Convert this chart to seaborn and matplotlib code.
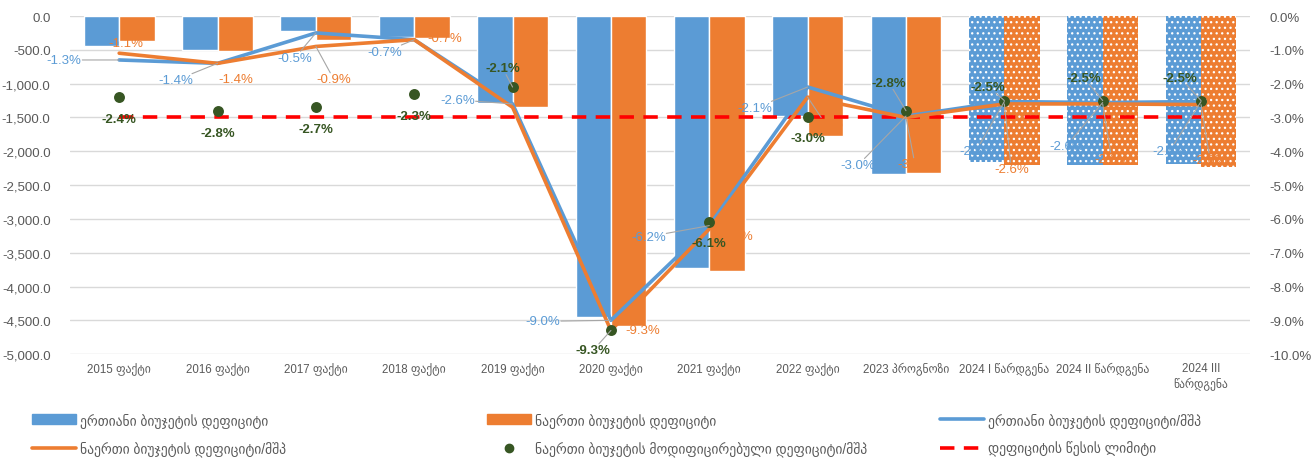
import numpy as np
import pandas as pd
import seaborn as sns
import matplotlib.pyplot as plt
from matplotlib.lines import Line2D
from matplotlib.patches import Patch
from matplotlib.ticker import FuncFormatter, MultipleLocator

# ---- data ----
categories = ['2015 ფაქტი', '2016 ფაქტი', '2017 ფაქტი', '2018 ფაქტი', '2019 ფაქტი',
              '2020 ფაქტი', '2021 ფაქტი', '2022 ფაქტი', '2023 პროგნოზი',
              '2024 I წარდგენა', '2024 II წარდგენა', '2024 III\nწარდგენა']

# mln GEL, left axis
unified_deficit = [-436, -500, -223, -312, -1291, -4454, -3720, -1480, -2340, -2166, -2200, -2186]
consolidated_deficit = [-371, -520, -356, -320, -1350, -4580, -3775, -1771, -2325, -2200, -2200, -2230]

# % of GDP, right axis
unified_pct = [-1.3, -1.4, -0.5, -0.7, -2.6, -9.0, -6.2, -2.1, -2.96, -2.53, -2.56, -2.53]
consolidated_pct = [-1.1, -1.4, -0.9, -0.7, -2.7, -9.3, -6.3, -2.4, -3.0, -2.6, -2.6, -2.62]
modified_pct = [-2.4, -2.8, -2.7, -2.3, -2.1, -9.3, -6.1, -3.0, -2.8, -2.5, -2.5, -2.5]
rule_limit = [-3.0, -3.0, -3.0, -3.0, -3.0, -3.0, -3.0, -3.0, -3.0, -3.0, -3.0, -3.0]

n_projection = 3  # last categories drawn with dotted fill

names = ['ერთიანი ბიუჯეტის დეფიციტი',
         'ნაერთი ბიუჯეტის დეფიციტი',
         'ერთიანი ბიუჯეტის დეფიციტი/მშპ',
         'ნაერთი ბიუჯეტის დეფიციტი/მშპ',
         'ნაერთი ბიუჯეტის მოდიფიცირებული დეფიციტი/მშპ',
         'დეფიციტის წესის ლიმიტი']

# label offsets in pixels (dx, dy down) and whether a leader line is drawn
blue_off = [(-55, 0), (-42, 17), (-21, 25), (-29, 12), (-55, -4), (-68, 1),
            (-61, 11), (-53, 21), (-48, 49), (-28, 49), (-36, 43), (-31, 49)]
blue_lead = [1, 1, 1, 1, 1, 1, 1, 1, 1, 1, 1, 1]
orange_off = [(7, -10), (18, 16), (18, 33), (31, -2), (18, -65), (32, 0),
              (26, 7), (18, 27), (9, 47), (7, 65), (9, 55), (9, 55)]
orange_lead = [0, 0, 1, 0, 0, 0, 0, 1, 1, 1, 1, 1]
green_off = [(0, 22), (0, 22), (0, 22), (0, 22), (-10, -19), (-18, 20),
             (0, 21), (0, 21), (-17, -28), (-16, -14), (-19, -23), (-21, -23)]
green_lead = [0, 0, 0, 0, 1, 1, 0, 0, 1, 1, 1, 1]

BLUE = '#5B9BD5'
ORANGE = '#ED7D31'
GREEN = '#375623'
RED = '#FF0000'
GREY = '#595959'

sns.set_style('white')
plt.rcParams['font.family'] = ['Liberation Sans', 'DejaVu Sans']
plt.rcParams['hatch.color'] = 'white'
plt.rcParams['hatch.linewidth'] = 0.9

fig, ax = plt.subplots(figsize=(13.16, 4.6), dpi=100)
fig.subplots_adjust(left=0.0532, right=0.950, top=0.963, bottom=0.228)

#--------bars---------------
bars = pd.DataFrame({
    'category': categories * 2,
    'series': [names[0]] * len(categories) + [names[1]] * len(categories),
    'value': unified_deficit + consolidated_deficit,
})
sns.barplot(data=bars, x='category', y='value', hue='series', palette=[BLUE, ORANGE],
            width=0.72, saturation=1, ax=ax, legend=False)
first_proj = len(categories) - n_projection
for p in ax.patches:
    if p.get_x() + p.get_width() / 2 > first_proj - 0.5:
        p.set_hatch('...')
        p.set_edgecolor('white')
        p.set_linewidth(0)

ax.set_ylim(-5000, 0)
ax.set_xlim(-0.5, len(categories) - 0.5)
ax.yaxis.set_major_locator(MultipleLocator(500))
ax.yaxis.set_major_formatter(FuncFormatter(lambda v, _: f'{abs(v):,.1f}' if v == 0 else f'{v:,.1f}'))
ax.grid(axis='y', color='#D9D9D9', lw=1)
ax.set_axisbelow(True)
ax.set_xlabel('')
ax.set_ylabel('')
ax.tick_params(axis='y', length=0, labelsize=9.5, labelcolor=GREY, pad=14)
ax.tick_params(axis='x', length=0, labelsize=8.3, labelcolor=GREY, pad=6)
sns.despine(ax=ax, left=True, bottom=True)

#--------lines on % axis----
ax2 = ax.twinx()
xpos = np.arange(len(categories))
sns.lineplot(x=xpos, y=rule_limit, ax=ax2, color=RED, lw=2.6, linestyle=(0, (4, 2.6)), sort=False)
sns.lineplot(x=xpos, y=unified_pct, ax=ax2, color=BLUE, lw=2.6, sort=False)
sns.lineplot(x=xpos, y=consolidated_pct, ax=ax2, color=ORANGE, lw=2.6, sort=False)
sns.scatterplot(x=xpos, y=modified_pct, ax=ax2, color=GREEN, s=62, linewidth=0, zorder=5)

ax2.set_ylim(-10, 0)
ax2.yaxis.set_major_locator(MultipleLocator(1))
ax2.yaxis.set_major_formatter(FuncFormatter(lambda v, _: f'{abs(v):.1f}%' if v == 0 else f'{v:.1f}%'))
ax2.tick_params(axis='y', length=0, labelsize=9.5, labelcolor=GREY, pad=14)
for s in ax2.spines.values():
    s.set_visible(False)

#--------data labels--------
def add_labels(values, offsets, leads, color, weight):
    for i, (v, (dx, dy), ld) in enumerate(zip(values, offsets, leads)):
        lead = dict(arrowstyle='-', color='#A6A6A6', lw=0.8, shrinkA=0, shrinkB=0) if ld else None
        ax2.annotate(f'{v:.1f}%', xy=(i, v), xytext=(dx, -dy), textcoords='offset pixels',
                     ha='center', va='center', fontsize=9.5, color=color, fontweight=weight,
                     bbox=dict(boxstyle='square,pad=0.05', fc='none', ec='none'),
                     arrowprops=lead, annotation_clip=False, zorder=6)

add_labels(unified_pct, blue_off, blue_lead, BLUE, 'normal')
add_labels(consolidated_pct, orange_off, orange_lead, ORANGE, 'normal')
add_labels(modified_pct, green_off, green_lead, GREEN, 'bold')

#--------legend (3 columns x 2 rows)-----
handles = [Patch(color=BLUE), Line2D([], [], color=ORANGE, lw=2.6),
           Patch(color=ORANGE), Line2D([], [], color=GREEN, marker='o', ls='none', markersize=6),
           Line2D([], [], color=BLUE, lw=2.6), Line2D([], [], color=RED, lw=2.6, linestyle=(0, (4, 2.6)))]
labels = [names[0], names[3], names[1], names[4], names[2], names[5]]
for k, x0 in enumerate([32, 487, 940]):
    fig.legend(handles[2 * k:2 * k + 2], labels[2 * k:2 * k + 2], loc='center left',
               bbox_to_anchor=(x0 / 1316, 1 - 435 / 460), frameon=False, fontsize=9.8,
               labelcolor=GREY, handlelength=3.25, handletextpad=0.25, labelspacing=0.95,
               borderpad=0, borderaxespad=0)

plt.savefig('out.png', dpi=100)
